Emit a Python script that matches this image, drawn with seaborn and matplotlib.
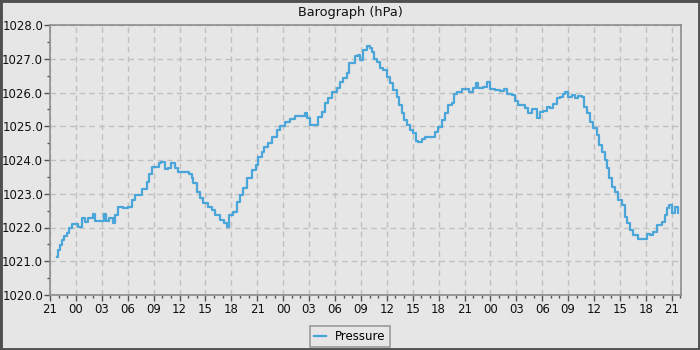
import matplotlib
matplotlib.use("Agg")
import matplotlib.pyplot as plt
from matplotlib.patches import Rectangle
from matplotlib.ticker import MultipleLocator, FixedLocator, FormatStrFormatter
import seaborn as sns
import pandas as pd

# hours since 21:00 of the first day
hours = [0.77, 0.87, 1.16, 1.35, 1.62, 1.93, 2.24, 2.51, 3.00, 3.28, 3.67, 4.05, 4.44, 4.94,
         5.21, 5.98, 6.25, 6.48, 6.87, 7.33, 7.53, 7.91, 8.49, 9.07, 9.46, 9.84, 10.23, 10.60,
         11.00, 11.20, 11.50, 11.77, 12.35, 12.66, 12.90, 13.30, 13.70, 13.97, 14.47, 14.86,
         15.44, 16.13, 16.40, 16.60, 16.98, 17.37, 17.75, 18.33, 18.72, 19.10, 19.69, 20.15,
         20.46, 20.76, 21.23, 21.60, 22.00, 22.39, 22.78, 23.35, 23.85, 24.12, 24.51, 24.78,
         25.28, 25.67, 26.25, 26.63, 27.20, 27.79, 28.37, 28.95, 29.53, 29.72, 30.10, 30.69,
         31.07, 31.46, 31.84, 32.23, 32.62, 33.20, 33.58, 33.96, 34.35, 34.66, 35.05, 35.32,
         35.70, 35.90, 36.20, 36.67, 37.05, 37.25, 37.50, 37.90, 38.20, 38.60, 38.99, 39.37,
         39.76, 40.14, 40.45, 40.72, 40.99, 41.30, 41.69, 42.07, 42.34, 42.65, 43.04, 43.42,
         44.20, 44.58, 44.96, 45.35, 45.74, 46.12, 46.51, 46.78, 47.09, 47.67, 48.17, 48.55,
         48.95, 49.33, 49.60, 50.17, 50.64, 50.95, 51.53, 52.10, 52.57, 52.95, 53.46, 53.84,
         54.23, 54.62, 55.00, 55.38, 55.77, 56.04, 56.35, 56.74, 57.12, 57.51, 57.90, 58.21,
         58.67, 59.06, 59.44, 59.63, 60.02, 60.41, 60.79, 61.18, 61.57, 61.83, 62.14, 62.53,
         62.91, 63.30, 63.60, 63.88, 64.26, 64.46, 64.76, 65.04, 65.42, 65.81, 66.20, 66.58,
         66.85, 67.16, 67.54, 68.12, 68.70, 69.10, 69.50, 69.79, 70.25, 70.83, 71.21, 71.48,
         71.71, 71.98, 72.37, 72.75]

pressure = [1021.14, 1021.33, 1021.48, 1021.63, 1021.75, 1021.83, 1021.98, 1022.10, 1022.10,
            1022.02, 1022.27, 1022.17, 1022.27, 1022.39, 1022.20, 1022.20, 1022.39, 1022.20,
            1022.27, 1022.12, 1022.37, 1022.62, 1022.57, 1022.62, 1022.81, 1022.96, 1022.96,
            1023.13, 1023.13, 1023.36, 1023.60, 1023.80, 1023.80, 1023.90, 1023.95, 1023.72,
            1023.75, 1023.90, 1023.75, 1023.65, 1023.63, 1023.60, 1023.46, 1023.31, 1023.06,
            1022.86, 1022.74, 1022.62, 1022.52, 1022.37, 1022.22, 1022.12, 1022.02, 1022.37,
            1022.47, 1022.76, 1022.96, 1023.16, 1023.46, 1023.70, 1023.85, 1024.10, 1024.25,
            1024.39, 1024.49, 1024.69, 1024.89, 1025.02, 1025.12, 1025.21, 1025.30, 1025.30,
            1025.38, 1025.24, 1025.04, 1025.04, 1025.28, 1025.43, 1025.68, 1025.83, 1026.02,
            1026.12, 1026.32, 1026.44, 1026.57, 1026.86, 1026.86, 1027.09, 1027.10, 1026.96,
            1027.26, 1027.39, 1027.33, 1027.21, 1026.99, 1026.89, 1026.72, 1026.67, 1026.47,
            1026.27, 1026.07, 1025.87, 1025.63, 1025.38, 1025.19, 1025.04, 1024.89, 1024.79,
            1024.56, 1024.52, 1024.62, 1024.69, 1024.69, 1024.84, 1024.99, 1025.19, 1025.38,
            1025.63, 1025.68, 1025.95, 1026.02, 1026.10, 1026.10, 1026.02, 1026.14, 1026.27,
            1026.12, 1026.17, 1026.32, 1026.10, 1026.07, 1026.05, 1026.10, 1025.97, 1025.93,
            1025.75, 1025.63, 1025.63, 1025.53, 1025.38, 1025.50, 1025.50, 1025.24, 1025.43,
            1025.45, 1025.58, 1025.55, 1025.66, 1025.83, 1025.88, 1025.96, 1026.02, 1025.86,
            1025.93, 1025.83, 1025.90, 1025.88, 1025.58, 1025.38, 1025.14, 1024.94, 1024.74,
            1024.44, 1024.25, 1024.00, 1023.75, 1023.46, 1023.21, 1023.06, 1022.81, 1022.67,
            1022.32, 1022.12, 1021.93, 1021.78, 1021.65, 1021.65, 1021.81, 1021.78, 1021.88,
            1022.07, 1022.17, 1022.37, 1022.57, 1022.67, 1022.44, 1022.62, 1022.42]

tick_hours = list(range(0, 73, 3))
tick_labels = ["%02d" % ((21 + h) % 24) for h in tick_hours]
series_name = "Pressure"
title = "Barograph (hPa)"

BG = "#e6e6e6"
LINE = "#4aa6d9"
SPINE = "#8c8c8c"

df = pd.DataFrame({"hours": hours, "pressure": pressure})

fig = plt.figure(figsize=(7, 3.5), dpi=100, facecolor=BG)
ax = fig.add_axes([50 / 700, 1 - 295 / 350, 631 / 700, 270 / 350])
ax.set_facecolor(BG)

sns.lineplot(data=df, x="hours", y="pressure", ax=ax, color=LINE, linewidth=1.6,
             drawstyle="steps-post", estimator=None, sort=False, label=series_name)

ax.set_xlim(0, 73.07)
ax.set_ylim(1020, 1028)
ax.set_xlabel("")
ax.set_ylabel("")

ax.xaxis.set_major_locator(FixedLocator(tick_hours))
ax.set_xticklabels(tick_labels)
ax.xaxis.set_minor_locator(MultipleLocator(1))
ax.yaxis.set_major_locator(MultipleLocator(1))
ax.yaxis.set_minor_locator(MultipleLocator(0.5))
ax.yaxis.set_major_formatter(FormatStrFormatter("%.1f"))

ax.tick_params(axis="both", which="major", length=4, width=1, color="#555555",
               labelsize=8.5, labelcolor="#111111", pad=2)
ax.tick_params(axis="both", which="minor", length=2.5, width=1, color="#555555")
ax.tick_params(axis="y", which="major", pad=1)

for s in ax.spines.values():
    s.set_color(SPINE)
    s.set_linewidth(1.2)

ax.grid(True, which="major", color="#c0c0c0", linestyle=(0, (4, 3)), linewidth=1)
ax.set_axisbelow(True)

ax.legend_.remove()
handles, labels = ax.get_legend_handles_labels()
leg = fig.legend(handles, labels, loc="lower center", bbox_to_anchor=(0.5, 3 / 350),
                 frameon=True, fancybox=False, fontsize=8.5, handlelength=1.0,
                 handletextpad=0.8, borderpad=0.35, borderaxespad=0)
leg.get_frame().set_facecolor(BG)
leg.get_frame().set_edgecolor("#888888")
leg.get_frame().set_linewidth(1.2)

fig.text(0.5, 1 - 12.5 / 350, title, ha="center", va="center", fontsize=9.3, color="#111111")

fig.patches.append(Rectangle((0, 0), 1, 1, transform=fig.transFigure, fill=False,
                             edgecolor="#505050", linewidth=3.5))

fig.savefig("out.png", dpi=100, facecolor=BG)
